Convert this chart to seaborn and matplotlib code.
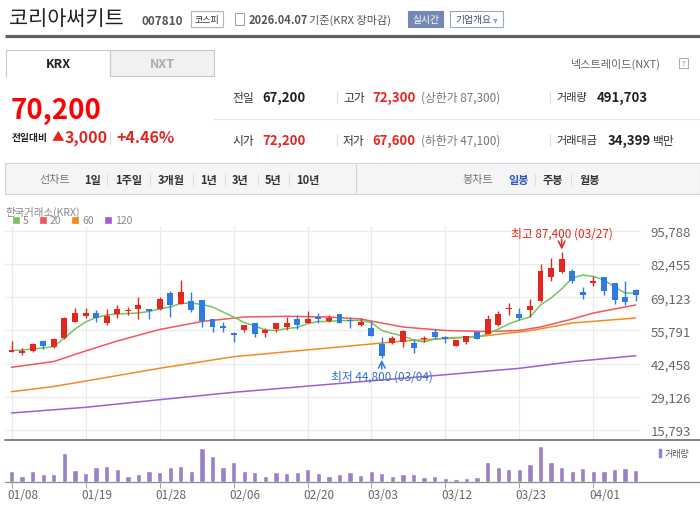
import matplotlib
matplotlib.use("Agg")
import matplotlib.pyplot as plt
from matplotlib.patches import Rectangle
import numpy as np
import pandas as pd
import seaborn as sns

# 거래일 (2026.01.08 ~ 04.07)
dates = ["01/08", "01/09", "01/12", "01/13", "01/14", "01/15", "01/16", "01/19", "01/20", "01/21",
         "01/22", "01/23", "01/26", "01/27", "01/28", "01/29", "01/30",
         "02/02", "02/03", "02/04", "02/05", "02/06", "02/09", "02/10", "02/11", "02/12", "02/13",
         "02/19", "02/20", "02/23", "02/24", "02/25", "02/26", "02/27",
         "03/03", "03/04", "03/05", "03/06", "03/09", "03/10", "03/11", "03/12", "03/13", "03/16",
         "03/17", "03/18", "03/19", "03/20", "03/23", "03/24", "03/25", "03/26", "03/27", "03/30",
         "03/31", "04/01", "04/02", "04/03", "04/06", "04/07"]

opens = [47200, 46850, 47650, 51550, 49100, 52750, 59300, 61700, 62800, 58600,
         62400, 63450, 64400, 64200, 64400, 70800, 66500, 67500, 68000, 60350,
         57700, 54550, 56050, 58750, 54650, 56350, 57300, 60350, 58750, 61250,
         59700, 62400, 60100, 58100, 56750, 50350, 50750, 51250, 50750, 52350,
         54950, 52950, 49650, 51250, 55250, 54350, 58100, 64400, 62400, 64100,
         67500, 77350, 79350, 79500, 71400, 74950, 77250, 74850, 69100, 72200]
highs = [51650, 48900, 50750, 52050, 52750, 61150, 64800, 64800, 64000, 64400,
         66000, 65300, 69200, 64400, 69200, 71600, 76000, 71200, 68000, 60350,
         59050, 54950, 57950, 58750, 56950, 58750, 61250, 61950, 63550, 62800,
         61950, 62400, 61250, 60750, 59550, 52950, 53650, 55850, 52350, 53650,
         56350, 53600, 51950, 53650, 55250, 61950, 63700, 66800, 64800, 68400,
         82450, 84850, 87400, 80450, 73350, 77500, 77250, 74850, 75500, 72300]
lows = [47100, 45850, 47250, 48300, 48850, 52350, 59050, 60650, 59300, 57900,
        60650, 62100, 60350, 60350, 64100, 61300, 66250, 63300, 57300, 55050,
        55050, 51200, 55050, 53250, 53250, 55050, 56150, 56350, 58750, 58650,
        59050, 58600, 56650, 57700, 53400, 44800, 50350, 49250, 46600, 51000,
        52200, 50750, 49400, 50350, 52200, 54350, 57450, 61950, 59950, 61300,
        67050, 75750, 78700, 74950, 68400, 73750, 70000, 66400, 66000, 67600]
closes = [47900, 47500, 50200, 49650, 52350, 60750, 62800, 62800, 60650, 61400,
          64400, 63850, 66000, 63500, 68400, 66100, 71200, 64100, 59700, 57300,
          56600, 54000, 57950, 54450, 56050, 58750, 58750, 57950, 60350, 60300,
          60650, 58600, 59550, 59300, 53400, 45650, 52750, 55450, 48700, 52750,
          53250, 52200, 51950, 53600, 52350, 60350, 62400, 64800, 60750, 65700,
          79650, 80850, 84450, 75750, 70050, 75650, 71750, 68100, 67200, 70200]
volumes = [450000, 239000, 450000, 323000, 323000, 1208000, 492000, 365000, 618000, 660000,
           534000, 239000, 323000, 450000, 407000, 618000, 660000, 450000, 1419000, 1082000,
           618000, 829000, 450000, 407000, 239000, 407000, 365000, 407000, 534000, 365000,
           239000, 323000, 407000, 281000, 450000, 365000, 239000, 323000, 323000, 197000,
           239000, 155000, 112000, 155000, 197000, 829000, 618000, 534000, 534000, 745000,
           1503000, 829000, 618000, 450000, 576000, 450000, 450000, 534000, 576000, 491703]

# 이동평균선
ma5 = [47650, 47920, 48320, 48720, 49320, 52740, 56350, 59170, 60980, 61980,
       62380, 62580, 62780, 63390, 64390, 65190, 66600, 66800, 66200, 65190,
       63180, 61170, 58970, 57560, 55950, 55750, 56550, 56950, 58560, 59370,
       59370, 59690, 59770, 59770, 58970, 55750, 54540, 53540, 51930, 51130,
       52340, 52740, 52940, 53020, 53020, 54340, 56350, 58360, 59970, 61170,
       65990, 68800, 72410, 76830, 78030, 77430, 76030, 73220, 70810, 70690]
ma20_idx = [0, 4, 7, 10, 14, 18, 22, 26, 30, 33, 35, 37, 41, 45, 48, 50, 53, 55, 57, 59]
ma20 = [40970, 43300, 47520, 51530, 56150, 59370, 61170, 61450, 61170, 60360,
        58760, 57150, 55750, 55340, 55750, 57150, 60360, 62780, 64390, 65990]
ma60_idx = [0, 4, 14, 21, 33, 37, 44, 49, 53, 59]
ma60 = [31170, 33260, 40570, 45230, 49930, 51530, 53260, 55670, 58760, 60770]
ma120_idx = [0, 7, 14, 21, 33, 41, 48, 53, 59]
ma120 = [22620, 24900, 27960, 30930, 35190, 37990, 40560, 43220, 45630]

y_ticks = [15793, 29126, 42458, 55791, 69123, 82455, 95788]
tick_dates = ["01/08", "01/19", "01/28", "02/06", "02/20", "03/03", "03/12", "03/23", "04/01"]

RED = "#e3261f"
BLUE = "#2f7ae5"
C5, C20, C60, C120 = "#78c35f", "#f0585a", "#f38b1e", "#a05fd0"
VOL = "#9b80c8"

df = pd.DataFrame({"date": dates, "open": opens, "high": highs, "low": lows,
                   "close": closes, "volume": volumes})
df["x"] = np.arange(len(df))

sns.set_theme(style="white")
plt.rcParams["font.family"] = ["Noto Sans CJK KR", "DejaVu Sans"]
plt.rcParams["axes.unicode_minus"] = False

W, H = 700, 506
fig = plt.figure(figsize=(W / 100, H / 100), dpi=100)
fig.patch.set_facecolor("white")

# 배경(픽셀 좌표)
bg = fig.add_axes([0, 0, 1, 1])
bg.set_xlim(0, W)
bg.set_ylim(H, 0)
bg.axis("off")


def t(x, y, s, size=8.5, color="#333333", weight="normal", ha="left", **kw):
    bg.text(x, y, s, fontsize=size, color=color, fontweight=weight, ha=ha, va="center", **kw)


def box(x0, y0, x1, y1, fc="white", ec="#cccccc", lw=0.8, z=1):
    bg.add_patch(Rectangle((x0, y0), x1 - x0, y1 - y0, facecolor=fc, edgecolor=ec, linewidth=lw, zorder=z))


# 상단 제목
t(9, 19, "코리아써키트", size=15, color="#222222")
t(141, 21, "007810", size=8.5, color="#555555", weight="bold")
box(191, 12, 223, 28, ec="#b5b5b5")
t(207, 20, "코스피", size=6.5, color="#333333", ha="center")
box(235, 14, 244, 26, ec="#a0a0a0", lw=0.7)
t(249, 20.5, "2026.04.07", size=8, color="#555555", weight="bold")
t(309, 20.5, "기준(KRX 장마감)", size=8, color="#555555")
box(408, 12, 443, 28, fc="#7587b3", ec="#7587b3")
t(425.5, 20, "실시간", size=7, color="white", ha="center")
box(450, 12, 503, 28, ec="#98a8cc")
t(455, 20, "기업개요", size=7, color="#3c4a78")
t(493, 20, "▾", size=7, color="#98a8cc")
bg.plot([5, 700], [37, 37], color="#5b5f66", linewidth=2.3, solid_capstyle="butt")

# 탭
box(110, 51, 214, 77, fc="#f1f1f1", ec="#c9c9c9")
bg.plot([6, 6, 110, 110], [78, 51, 51, 77], color="#c9c9c9", linewidth=0.8)
t(58, 64, "KRX", size=9, color="#222222", weight="bold", ha="center")
t(162, 64, "NXT", size=9, color="#aaaaaa", weight="bold", ha="center")
t(571, 64, "넥스트레이드(NXT)", size=8, color="#666666")
box(679, 59, 688, 69, ec="#aaaaaa", lw=0.7)
t(683.5, 64, "?", size=5.5, color="#888888", ha="center")

# 현재가
t(11, 111, "70,200", size=20, color="#ff0000", weight="bold")
t(12, 138, "전일대비", size=7, color="#222222", weight="bold")
t(52, 138, "▲", size=9, color="#e3261f")
t(65, 138, "3,000", size=11.5, color="#e3261f", weight="bold")
bg.plot([110, 110], [132, 145], color="#dddddd", linewidth=0.8)
t(116, 138, "+4.46%", size=11.5, color="#e3261f", weight="bold")

# 시세 표
bg.plot([214, 700], [120, 120], color="#e6e6e6", linewidth=0.8)
for xs in (337, 550):
    for yc in (98, 141):
        bg.plot([xs, xs], [yc - 6, yc + 6], color="#dddddd", linewidth=0.8)
rows = [
    (98, [(232, "전일", "#333333", "normal", 8.5), (262, "67,200", "#222222", "bold", 9.5),
          (343, "고가", "#333333", "normal", 8.5), (372, "72,300", RED, "bold", 9.5),
          (421, "(상한가 87,300)", "#777777", "normal", 8.5),
          (556, "거래량", "#333333", "normal", 8), (597, "491,703", "#222222", "bold", 9.5)]),
    (141, [(232, "시가", "#333333", "normal", 8.5), (262, "72,200", RED, "bold", 9.5),
           (343, "저가", "#333333", "normal", 8.5), (372, "67,600", RED, "bold", 9.5),
           (421, "(하한가 47,100)", "#777777", "normal", 8.5),
           (556, "거래대금", "#333333", "normal", 8), (608, "34,399", "#222222", "bold", 9.5),
           (653, "백만", "#333333", "normal", 8.5)]),
]
for yc, items in rows:
    for xc, s, c, w, sz in items:
        t(xc, yc, s, size=sz, color=c, weight=w)

# 기간 선택 바
box(5, 164, 700, 195, fc="#f5f5f7", ec="#d3d3d6")
bg.plot([356, 356], [164, 195], color="#d3d3d6", linewidth=0.8)
t(39, 180, "선차트", size=8, color="#777777")
for xc, s in [(84, "1일"), (115, "1주일"), (158, "3개월"), (200, "1년"), (232, "3년"), (265, "5년"), (296, "10년")]:
    t(xc, 180, s, size=8, color="#333333", weight="bold")
for xs in (107, 150, 193, 225, 258, 289, 535, 571):
    bg.plot([xs, xs], [175, 186], color="#dcdcdc", linewidth=0.7)
t(462, 180, "봉차트", size=8, color="#777777")
t(508, 180, "일봉", size=8, color="#2d58b8", weight="bold")
t(543, 180, "주봉", size=8, color="#333333", weight="bold")
t(580, 180, "월봉", size=8, color="#333333", weight="bold")

# 차트 범례
t(5, 212, "한국거래소(KRX)", size=7.5, color="#888888")
for xc, c, s in [(13, C5, "5"), (40, C20, "20"), (72, C60, "60"), (105, C120, "120")]:
    box(xc, 218, xc + 6, 224, fc=c, ec=c, lw=0.5)
    t(xc + 10, 221.5, s, size=7.5, color="#888888")

# 가격 차트
x_left, x_right = 5, 641
step, x0 = 10.58, 11.5
xlim = ((x_left - x0) / step, (x_right - x0) / step)
p_top, p_bot, p_per_px, p_ref_y, p_ref = 228, 440, 401.6, 231.8, 95788
ax = fig.add_axes([x_left / W, 1 - p_bot / H, (x_right - x_left) / W, (p_bot - p_top) / H])
ax.set_facecolor("none")
ax.set_xlim(*xlim)
ax.set_ylim(p_ref - (p_bot - p_ref_y) * p_per_px, p_ref + (p_ref_y - p_top) * p_per_px)

tick_pos = [dates.index(d) for d in tick_dates]
ax.set_xticks(tick_pos)
ax.set_xticklabels([])
ax.set_yticks(y_ticks)
ax.set_yticklabels([f"{v:,}" for v in y_ticks], fontsize=9.5, color="#666666")
ax.yaxis.tick_right()
ax.tick_params(axis="both", length=0)
ax.tick_params(axis="y", pad=7)
ax.grid(True, color="#ebebeb", linewidth=0.9)
for s in ax.spines.values():
    s.set_visible(False)

sns.lineplot(x=ma120_idx, y=ma120, ax=ax, color=C120, linewidth=1.1, zorder=2)
sns.lineplot(x=ma60_idx, y=ma60, ax=ax, color=C60, linewidth=1.1, zorder=2)
sns.lineplot(x=ma20_idx, y=ma20, ax=ax, color=C20, linewidth=1.1, zorder=2)
sns.lineplot(x=df["x"], y=ma5, ax=ax, color=C5, linewidth=1.1, zorder=3)

up = df["close"] >= df["open"]
col = np.where(up, RED, BLUE)
ax.vlines(df["x"], df["low"], df["high"], colors=col, linewidth=1.0, zorder=4)
body = (df["close"] - df["open"]).abs().clip(lower=380)
ax.bar(df["x"], body, bottom=np.minimum(df["open"], df["close"]), width=0.56,
       color=col, linewidth=0, zorder=5)

# 최고 / 최저 표시
hi_i = dates.index("03/27")
lo_i = dates.index("03/04")
ax.annotate("", xy=(hi_i, 88300), xytext=(hi_i, 92400),
            arrowprops=dict(arrowstyle="->", color=RED, lw=1.1, shrinkA=0, shrinkB=0))
ax.text(hi_i, 94900, "최고 87,400 (03/27)", color=RED, fontsize=8.5, ha="center", va="center")
ax.annotate("", xy=(lo_i, 44000), xytext=(lo_i, 40300),
            arrowprops=dict(arrowstyle="->", color=BLUE, lw=1.1, shrinkA=0, shrinkB=0))
ax.text(lo_i, 37500, "최저 44,800 (03/04)", color="#2f6fd0", fontsize=8.5, ha="center", va="center")
ax.set_xlabel("")
ax.set_ylabel("")

# 거래량
v_top, v_bot = 441, 483
axv = fig.add_axes([x_left / W, 1 - v_bot / H, (x_right - x_left) / W, (v_bot - v_top) / H])
axv.set_facecolor("none")
sns.barplot(x=df["x"], y=df["volume"], ax=axv, color=VOL, saturation=1, width=0.5)
axv.set_xlim(*xlim)
axv.set_ylim(0, 1760000)
axv.set_xticks(tick_pos)
axv.set_xticklabels([])
axv.set_yticks([])
axv.tick_params(axis="x", length=4, width=0.8, color="#aaaaaa", bottom=True)
axv.set_xlabel("")
axv.set_ylabel("")
for s in axv.spines.values():
    s.set_visible(False)

# 날짜 라벨 (눈금 오른쪽으로 붙여서 표시)
for p, d in zip(tick_pos, tick_dates):
    t(x0 + step * p - 4, 496, d, size=8.5, color="#666666")

bg.plot([5, 700], [440.5, 440.5], color="#6a6a6a", linewidth=1.2, zorder=10)
bg.plot([5, 700], [483, 483], color="#8a8a8a", linewidth=0.9, zorder=10)
box(659, 450, 662, 459, fc=VOL, ec=VOL, lw=0.3)
t(665, 454.5, "거래량", size=6.5, color="#555555")

fig.savefig("out.png", dpi=100, facecolor="white")
